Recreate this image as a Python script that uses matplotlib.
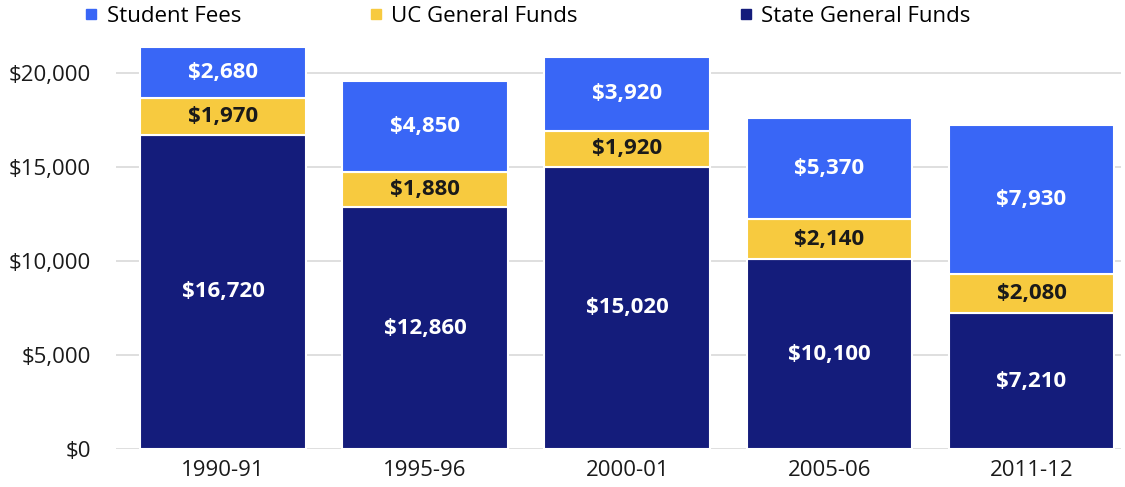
import matplotlib.pyplot as plt
from matplotlib.lines import Line2D
from matplotlib.ticker import FuncFormatter

plt.rcParams['font.family'] = ['Open Sans', 'DejaVu Sans']

years = ["1990-91", "1995-96", "2000-01", "2005-06", "2011-12"]
state_funds = [16720, 12860, 15020, 10100, 7210]
uc_funds = [1970, 1880, 1920, 2140, 2080]
student_fees = [2680, 4850, 3920, 5370, 7930]
series_names = ["Student Fees", "UC General Funds", "State General Funds"]

navy = "#141c7b"
yellow = "#f7ca3f"
blue = "#3966f6"

fig = plt.figure(figsize=(11.25, 4.87), dpi=100)
ax = fig.add_axes([0.103, 0.078, 0.893, 0.83])

x = range(len(years))
w = 0.82
bottom2 = [a + b for a, b in zip(state_funds, uc_funds)]
ax.bar(x, state_funds, w, color=navy, edgecolor="white", linewidth=1.5, zorder=2)
ax.bar(x, uc_funds, w, bottom=state_funds, color=yellow, edgecolor="white", linewidth=1.5, zorder=2)
ax.bar(x, student_fees, w, bottom=bottom2, color=blue, edgecolor="white", linewidth=1.5, zorder=2)

for i in x:
    ax.text(i, state_funds[i] / 2, f"${state_funds[i]:,}", ha="center", va="center",
            color="white", fontsize=16, fontweight="bold", zorder=3)
    ax.text(i, state_funds[i] + uc_funds[i] / 2, f"${uc_funds[i]:,}", ha="center", va="center",
            color="#1a1a1a", fontsize=16, fontweight="bold", zorder=3)
    ax.text(i, bottom2[i] + student_fees[i] / 2, f"${student_fees[i]:,}", ha="center", va="center",
            color="white", fontsize=16, fontweight="bold", zorder=3)

ax.set_xlim(-0.53, 4.44)
ax.set_ylim(0, 21500)
ax.set_yticks([0, 5000, 10000, 15000, 20000])
ax.yaxis.set_major_formatter(FuncFormatter(lambda v, p: f"${int(v):,}"))
ax.set_xticks(list(x))
ax.set_xticklabels(years)
ax.tick_params(axis="both", length=0, labelsize=16, colors="#1a1a1a")
ax.tick_params(axis="y", pad=18)
ax.tick_params(axis="x", pad=8)
ax.grid(axis="y", color="#d9d9d9", linewidth=1.2, zorder=0)
for s in ax.spines.values():
    s.set_visible(False)

# one legend per entry so each sits where the original puts it
for name, c, xpos in zip(series_names, (blue, yellow, navy), (0.075, 0.328, 0.657)):
    h = Line2D([], [], marker="s", linestyle="none", markersize=7, color=c)
    fig.legend([h], [name], loc="center left", bbox_to_anchor=(xpos, 0.967),
               frameon=False, fontsize=16, handlelength=0.6, handletextpad=0.4,
               borderpad=0, borderaxespad=0)

fig.savefig("out.png", dpi=100)
